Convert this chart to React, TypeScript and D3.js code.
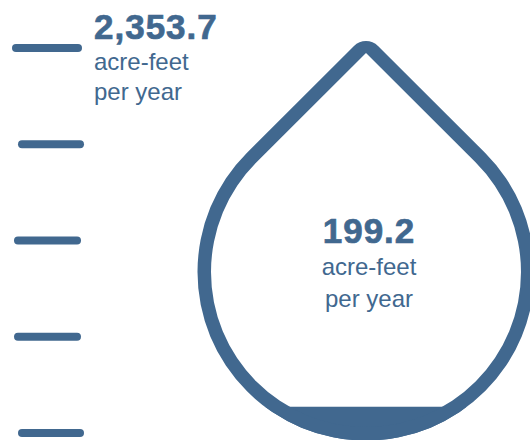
import * as React from 'react';
import * as d3 from 'd3';

// values
const maxValue = 2353.7;
const dropValue = 199.2;
const unitLines = ['acre-feet', 'per year'];
const gaugeLevels = [2353.7, 1765.3, 1176.9, 588.4, 0];
const gaugeStarts = [0, 6, 2, 2, 6];
const gaugeEnds = [70, 72, 69, 69, 72];

const color = '#41688f';
const fontFamily = '"Liberation Sans", Arial, sans-serif';
const width = 530;
const height = 440;

// teardrop edge: straight sides tangent to a circle, meeting at apexY
const dropPath = (cx: number, cy: number, r: number, apexY: number, corner: number) => {
    const a = Math.acos(r / (cy - apexY));
    const tx = Math.sin(a) * r;
    const ty = Math.cos(a) * r;
    const p = d3.path();
    p.moveTo(cx - tx, cy - ty);
    if (corner > 0) {
        p.arcTo(cx, apexY, cx + tx, cy - ty, corner);
    } else {
        p.lineTo(cx, apexY);
    }
    p.lineTo(cx + tx, cy - ty);
    p.arc(cx, cy, r, -Math.PI / 2 + a, -Math.PI / 2 - a);
    p.closePath();
    return p.toString();
};

const App: React.FunctionComponent = () => {
    const ref = React.useRef<SVGSVGElement>(null);

    React.useEffect(() => {
        if (!ref.current) {
            return;
        }
        const svg = d3.select(ref.current);
        svg.selectAll('*').remove();

        const gaugeY = d3.scaleLinear().domain([0, maxValue]).range([433, 48]);
        const gaugeX = d3.scaleLinear().domain([0, 72]).range([12, 84]);
        const dropY = d3.scaleLinear().domain([0, maxValue]).range([440, 47]);

        svg.selectAll('line.gauge')
            .data(gaugeLevels)
            .join('line')
            .attr('class', 'gauge')
            .attr('x1', (d, ix) => gaugeX(gaugeStarts[ix]) + 4)
            .attr('x2', (d, ix) => gaugeX(gaugeEnds[ix]) - 4)
            .attr('y1', d => gaugeY(d))
            .attr('y2', d => gaugeY(d))
            .attr('stroke', color)
            .attr('stroke-width', 8)
            .attr('stroke-linecap', 'round');

        const cx = 366;
        const cy = 272;
        const outer = dropPath(cx, cy, 168.5, 34, 17);
        const inner = dropPath(cx, cy, 155, 53, 0);

        svg.append('defs').append('clipPath').attr('id', 'drop-clip')
            .append('path').attr('d', outer);

        const levelY = dropY(dropValue);
        svg.append('rect')
            .attr('x', cx - 169)
            .attr('y', levelY)
            .attr('width', 338)
            .attr('height', height - levelY)
            .attr('fill', color)
            .attr('clip-path', 'url(#drop-clip)');

        svg.append('path')
            .attr('d', `${outer}${inner}`)
            .attr('fill', color)
            .attr('fill-rule', 'evenodd');

        const addLabel = (x: number, y: number, anchor: string, value: string, lineY: number[]) => {
            const g = svg.append('g').attr('fill', color).style('font-family', fontFamily);
            g.append('text')
                .attr('x', x)
                .attr('y', y)
                .attr('text-anchor', anchor)
                .attr('stroke', color)
                .attr('stroke-width', 0.7)
                .style('font-size', '35px')
                .style('font-weight', 700)
                .style('letter-spacing', '1px')
                .text(value);
            unitLines.forEach((line, ix) => {
                g.append('text')
                    .attr('x', x)
                    .attr('y', lineY[ix])
                    .attr('text-anchor', anchor)
                    .style('font-size', '24px')
                    .text(line);
            });
        };

        addLabel(94, 39, 'start', d3.format(',.1f')(maxValue), [70, 100]);
        addLabel(369, 243, 'middle', d3.format('.1f')(dropValue), [275, 307]);
    }, []);

    return (
        <svg
            ref={ref}
            width={width}
            height={height}
            style={{ position: 'absolute', left: 0, top: 0, background: '#ffffff' }}
        />
    );
};

export default App;
